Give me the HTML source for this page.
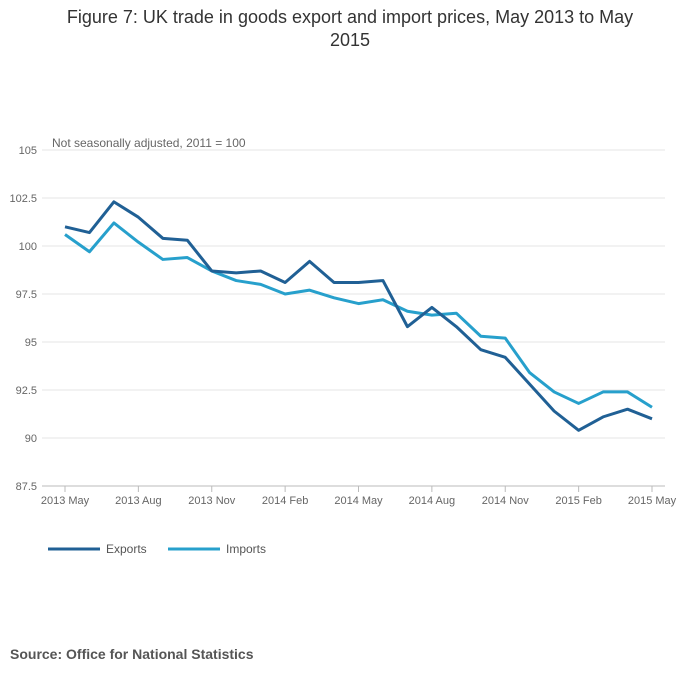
<!DOCTYPE html>
<html><head><meta charset="utf-8"><style>
body{margin:0;background:#fff;font-family:"Liberation Sans",sans-serif;}
#wrap{position:relative;width:700px;height:682px;overflow:hidden;}
.title{position:absolute;left:0;top:6px;width:700px;text-align:center;font-size:18px;color:#333;line-height:23px;}
.src{position:absolute;left:10px;top:646px;font-size:14px;font-weight:bold;color:#555;}
</style></head><body>
<div id="wrap">
<div class="title">Figure 7: UK trade in goods export and import prices, May 2013 to May<br>2015</div>
<svg id="chart" width="700" height="682" style="position:absolute;left:0;top:0"></svg>
<div class="src">Source: Office for National Statistics</div>
</div>
<script>
const months=["2013 May","Jun","Jul","2013 Aug","Sep","Oct","2013 Nov","Dec","Jan","2014 Feb","Mar","Apr","2014 May","Jun","Jul","2014 Aug","Sep","Oct","2014 Nov","Dec","Jan","2015 Feb","Mar","Apr","2015 May"];
const exportsSeries=[101.0,100.7,102.3,101.5,100.4,100.3,98.7,98.6,98.7,98.1,99.2,98.1,98.1,98.2,95.8,96.8,95.8,94.6,94.2,92.8,91.4,90.4,91.1,91.5,91.0];
const importsSeries=[100.6,99.7,101.2,100.2,99.3,99.4,98.7,98.2,98.0,97.5,97.7,97.3,97.0,97.2,96.6,96.4,96.5,95.3,95.2,93.4,92.4,91.8,92.4,92.4,91.6];
const yTicks=[87.5,90,92.5,95,97.5,100,102.5,105];
const xTickIdx=[0,3,6,9,12,15,18,21,24];
const NS="http://www.w3.org/2000/svg";
const svg=document.getElementById('chart');
const x=i=>65+i*(652-65)/24;
const y=v=>486-(v-87.5)*(336/17.5);
function mk(t,a,p){const e=document.createElementNS(NS,t);for(const k in a)e.setAttribute(k,a[k]);(p||svg).appendChild(e);return e;}
yTicks.forEach(v=>{
 const g=mk('line',{x1:42,x2:665,y1:y(v),y2:y(v),stroke:v===87.5?'#bbb':'#e6e6e6','stroke-width':1});
 
 
 const t=mk('text',{x:37,y:y(v)+4,'text-anchor':'end','font-size':11,fill:'#666'});
 t.textContent=String(v);
 
 
});
xTickIdx.forEach(i=>{
 const l=mk('line',{x1:x(i),x2:x(i),y1:486,y2:492,stroke:'#bbb'});
 
 
 const t=mk('text',{x:x(i),y:504,'text-anchor':'middle','font-size':11,fill:'#666'});
 t.textContent=months[i];
 
 
});
const yt=mk('text',{x:52,y:147,'font-size':12,fill:'#666'});
yt.textContent='Not seasonally adjusted, 2011 = 100';


function line(data,color,name){
 const p=mk('path',{d:data.map((v,i)=>(i?'L':'M')+x(i)+' '+y(v)).join(''),fill:'none',stroke:color,'stroke-width':3,'stroke-linejoin':'round'});
 
 
}
line(importsSeries,'#27a0cc','imports-line');
line(exportsSeries,'#206095','exports-line');
[['Exports','#206095',48,106],['Imports','#27a0cc',168,226]].forEach(([n,c,lx,tx])=>{
 const g=mk('g',{});
 
 
 mk('line',{x1:lx,x2:lx+52,y1:549,y2:549,stroke:c,'stroke-width':3},g);
 const t=mk('text',{x:tx,y:553,'font-size':12,fill:'#555'},g);
 t.textContent=n;
});
</script>
</body></html>
